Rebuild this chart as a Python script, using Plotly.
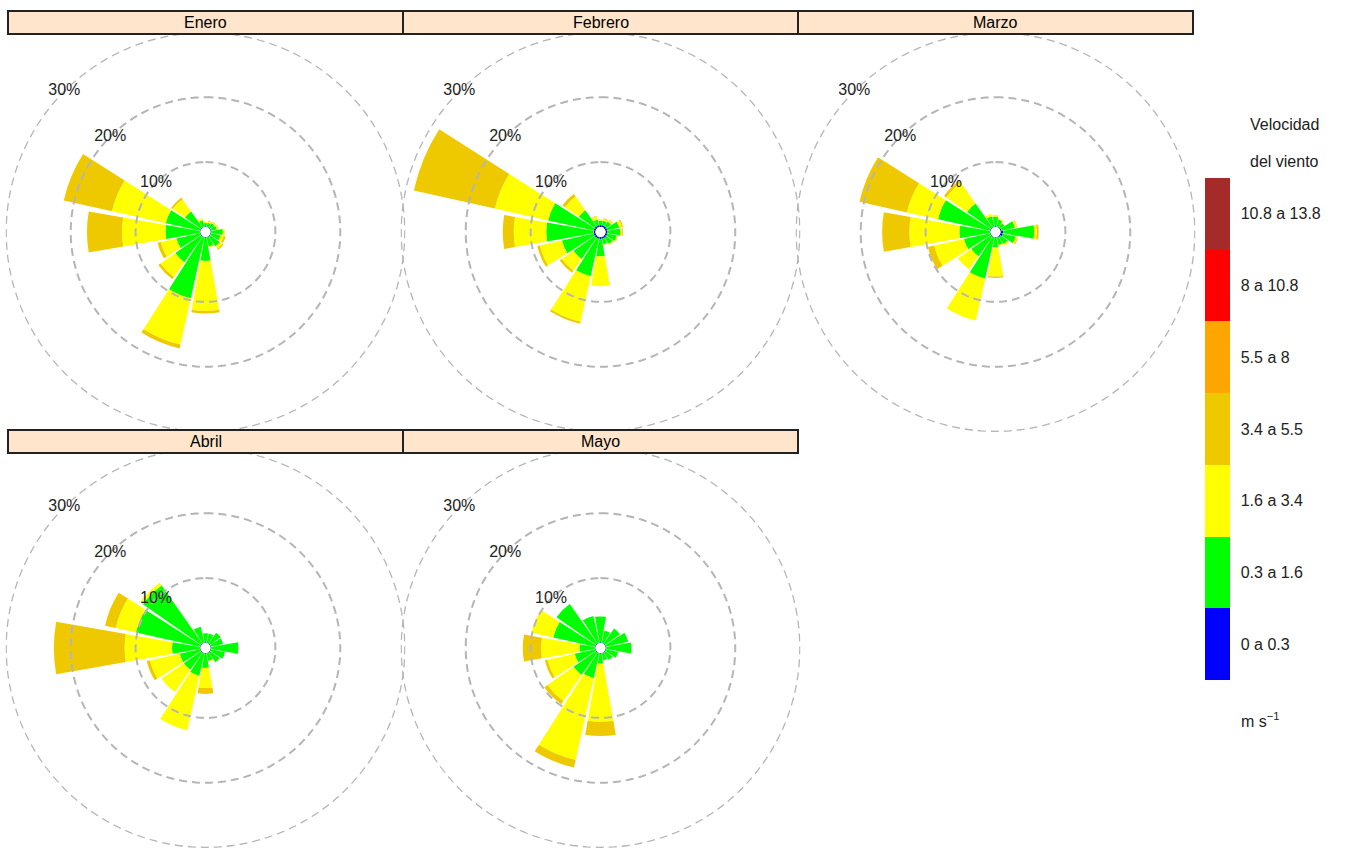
import plotly.graph_objects as go

# Compass directions (degrees, clockwise from north)
directions = [0, 22.5, 45, 67.5, 90, 112.5, 135, 157.5,
              180, 202.5, 225, 247.5, 270, 292.5, 315, 337.5]

speed_bins = ["0 a 0.3", "0.3 a 1.6", "1.6 a 3.4", "3.4 a 5.5",
              "5.5 a 8", "8 a 10.8", "10.8 a 13.8"]
bin_colors = ["#0000FF", "#00FF00", "#FFFF00", "#EEC900",
              "#FFA500", "#FF0000", "#A52A2A"]

months = ["Enero", "Febrero", "Marzo", "Abril", "Mayo"]
ring_values = [10, 20, 30]
ring_labels = ["10%", "20%", "30%"]

# Frequency (%) per direction for each speed class
ene_b1 = [0.1, 0.1, 0.1, 0.1, 0.1, 0.1, 0.1, 0.1, 0.1, 0.1, 0.1, 0.1, 0.1, 0.1, 0.1, 0.1]
ene_b2 = [0.5, 0.6, 0.8, 0.9, 1.8, 1.5, 1.8, 1.4, 3.6, 9.6, 4.8, 3.7, 5.3, 5.4, 3.0, 1.0]
ene_b3 = [0.2, 0.2, 0.2, 0.2, 0.3, 0.5, 0.5, 0.2, 7.7, 7.3, 2.8, 2.5, 6.7, 8.5, 2.3, 0.3]
ene_b4 = [0.0, 0.1, 0.1, 0.1, 0.0, 0.3, 0.2, 0.0, 0.4, 0.6, 0.4, 0.5, 5.4, 7.6, 0.3, 0.0]

feb_b1 = [0.3, 0.3, 0.3, 0.3, 0.3, 0.3, 0.3, 0.3, 0.3, 0.3, 0.3, 0.3, 0.3, 0.3, 0.3, 0.3]
feb_b2 = [0.7, 0.7, 0.9, 1.9, 2.0, 1.5, 1.2, 0.9, 2.7, 5.9, 4.0, 5.0, 7.3, 7.2, 3.0, 0.9]
feb_b3 = [0.2, 0.3, 0.3, 0.4, 0.3, 0.2, 0.2, 0.1, 4.6, 7.2, 2.2, 3.5, 5.0, 8.4, 2.6, 0.5]
feb_b4 = [0.0, 0.1, 0.1, 0.2, 0.1, 0.0, 0.0, 0.0, 0.0, 0.3, 0.4, 0.4, 1.7, 12.8, 0.5, 0.1]

mar_b1 = [0.1, 0.1, 0.1, 0.2, 0.4, 0.4, 0.2, 0.1, 0.1, 0.1, 0.1, 0.1, 0.1, 0.1, 0.1, 0.1]
mar_b2 = [1.5, 1.1, 0.8, 2.1, 4.8, 2.0, 1.3, 1.2, 1.5, 6.5, 3.7, 4.1, 4.7, 8.2, 4.5, 1.6]
mar_b3 = [0.3, 0.2, 0.1, 0.3, 0.4, 0.3, 0.3, 0.2, 4.5, 6.6, 2.5, 4.7, 7.7, 4.9, 3.9, 0.4]
mar_b4 = [0.0, 0.0, 0.0, 0.1, 0.3, 0.1, 0.0, 0.0, 0.2, 0.0, 0.0, 1.0, 4.2, 7.5, 0.4, 0.0]

abr_b1 = [0.1, 0.1, 0.1, 0.1, 0.1, 0.1, 0.1, 0.1, 0.1, 0.1, 0.1, 0.1, 0.1, 0.1, 0.1, 0.1]
abr_b2 = [1.4, 1.4, 2.0, 1.9, 4.2, 2.2, 1.8, 1.2, 2.2, 3.5, 3.2, 3.2, 4.3, 10.1, 10.9, 2.5]
abr_b3 = [0.0, 0.0, 0.0, 0.0, 0.0, 0.0, 0.0, 0.1, 3.1, 8.6, 4.2, 4.7, 7.3, 3.2, 0.5, 0.0]
abr_b4 = [0.0, 0.0, 0.0, 0.0, 0.0, 0.0, 0.0, 0.0, 0.9, 0.0, 0.0, 0.5, 10.9, 1.7, 0.0, 0.0]

may_b1 = [0.1, 0.1, 0.1, 0.1, 0.1, 0.1, 0.1, 0.1, 0.1, 0.1, 0.1, 0.1, 0.1, 0.1, 0.1, 0.1]
may_b2 = [4.0, 1.9, 2.8, 3.5, 3.9, 1.9, 1.4, 1.1, 1.5, 3.9, 4.2, 3.2, 2.4, 6.6, 7.4, 4.2]
may_b3 = [0.0, 0.0, 0.0, 0.0, 0.0, 0.0, 0.0, 0.0, 9.0, 12.9, 4.9, 4.3, 5.9, 3.4, 0.0, 0.0]
may_b4 = [0.0, 0.0, 0.0, 0.0, 0.0, 0.0, 0.0, 0.0, 2.2, 1.2, 0.6, 0.4, 2.8, 0.0, 0.0, 0.0]

month_bins = [
    [ene_b1, ene_b2, ene_b3, ene_b4],
    [feb_b1, feb_b2, feb_b3, feb_b4],
    [mar_b1, mar_b2, mar_b3, mar_b4],
    [abr_b1, abr_b2, abr_b3, abr_b4],
    [may_b1, may_b2, may_b3, may_b4],
]

# Page geometry (pixels)
W, H = 1350, 848
FONT = "Liberation Sans, Arial, Helvetica, sans-serif"
panel_left, panel_w = 8, 395
strip_tops = [11, 430]
strip_h = 23
centers_y = [232, 648]
R = 200
r_max = 30.05
GRID_COLOR = "#B5B5B5"
GRID_DASH = "8px,5px"

# angles used to trace the dashed reference rings
ring_theta = [a * 2 for a in range(181)]

fig = go.Figure()
layout_polars = {}
shapes = []
annotations = []

for i, month in enumerate(months):
    row, col = divmod(i, 3)
    cx = panel_left + panel_w * (col + 0.5)
    cy = centers_y[row]
    name = "polar" if i == 0 else f"polar{i + 1}"

    # dashed percentage rings
    for rv in ring_values:
        fig.add_trace(go.Scatterpolar(
            r=[rv] * len(ring_theta), theta=ring_theta, mode="lines",
            line=dict(color=GRID_COLOR, width=2, dash=GRID_DASH),
            subplot=name, showlegend=False, cliponaxis=False, hoverinfo="skip",
        ))

    for k, vals in enumerate(month_bins[i]):
        fig.add_trace(go.Barpolar(
            r=vals, theta=directions, width=20,
            marker=dict(color=bin_colors[k], line=dict(width=0)),
            subplot=name, showlegend=False, hoverinfo="skip",
        ))

    fig.add_trace(go.Scatterpolar(
        r=ring_values, theta=[315] * 3, mode="text", text=ring_labels,
        textfont=dict(family=FONT, size=16, color="#222222"),
        subplot=name, showlegend=False, cliponaxis=False, hoverinfo="skip",
    ))

    layout_polars[name] = dict(
        domain=dict(x=[(cx - R) / W, (cx + R) / W],
                    y=[1 - (cy + R) / H, 1 - (cy - R) / H]),
        bgcolor="rgba(0,0,0,0)",
        hole=0.025,
        barmode="stack",
        radialaxis=dict(range=[0, r_max], showticklabels=False, ticks="",
                        showline=False, showgrid=False),
        angularaxis=dict(rotation=90, direction="clockwise",
                         showgrid=False, showline=False,
                         showticklabels=False, ticks=""),
    )

    # strip header
    x0 = panel_left + panel_w * col
    y0 = strip_tops[row]
    shapes.append(dict(type="rect", xref="paper", yref="paper", layer="above",
                       x0=x0 / W, x1=(x0 + panel_w) / W,
                       y0=1 - (y0 + strip_h) / H, y1=1 - y0 / H,
                       fillcolor="#FFE5CC", line=dict(color="#222222", width=2)))
    annotations.append(dict(xref="paper", yref="paper", x=(x0 + panel_w / 2) / W,
                            y=1 - (y0 + strip_h / 2) / H, text=month, showarrow=False,
                            font=dict(family=FONT, size=16, color="black"),
                            xanchor="center", yanchor="middle"))

# Colour key for speed classes
n = len(speed_bins)
colorscale = []
for k, c in enumerate(bin_colors):
    colorscale.append([k / n, c])
    colorscale.append([(k + 1) / n, c])

fig.add_trace(go.Scatterpolar(
    r=[None], theta=[None], mode="markers", subplot="polar",
    showlegend=False, hoverinfo="skip",
    marker=dict(color=[0], cmin=0, cmax=n, colorscale=colorscale, showscale=True,
                colorbar=dict(x=1205 / W, xanchor="left", xpad=0, ypad=0,
                              thickness=25, thicknessmode="pixels",
                              len=502, lenmode="pixels",
                              y=1 - 429 / H, yanchor="middle",
                              tickvals=[k + 0.5 for k in range(n)],
                              ticktext=speed_bins, ticks="outside", ticklen=8,
                              tickcolor="rgba(0,0,0,0)", outlinewidth=0,
                              tickfont=dict(family=FONT, size=16, color="#222222"))),
))

for txt, y in [("Velocidad", 124), ("del viento", 161)]:
    annotations.append(dict(xref="paper", yref="paper", x=1284 / W, y=1 - y / H,
                            text=txt, showarrow=False, xanchor="center", yanchor="middle",
                            font=dict(family=FONT, size=16, color="#222222")))
annotations.append(dict(xref="paper", yref="paper", x=1239 / W, y=1 - 720 / H,
                        text="m s<sup>\u22121</sup>", showarrow=False,
                        xanchor="left", yanchor="middle",
                        font=dict(family=FONT, size=16, color="#222222")))

fig.update_layout(
    width=W, height=H,
    margin=dict(l=0, r=0, t=0, b=0),
    paper_bgcolor="white", plot_bgcolor="white",
    font=dict(family=FONT),
    shapes=shapes, annotations=annotations,
    **layout_polars,
)

fig.write_html("out.html")
